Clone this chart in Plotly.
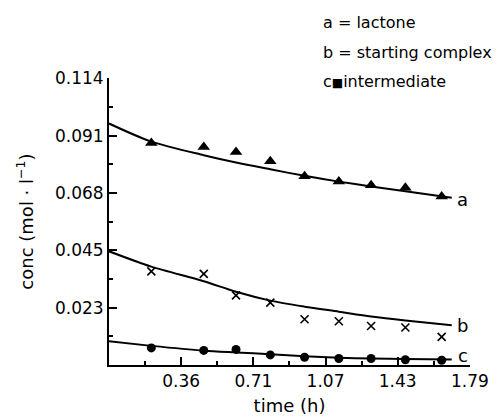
import plotly.graph_objects as go

# measured points
time_pts = [0.21, 0.47, 0.63, 0.80, 0.97, 1.14, 1.30, 1.47, 1.65]
lactone = [0.0883, 0.0867, 0.0847, 0.0810, 0.0750, 0.0730, 0.0715, 0.0705, 0.0670]
starting = [0.0372, 0.0362, 0.0277, 0.0248, 0.0182, 0.0174, 0.0155, 0.0149, 0.0112]
intermediate = [0.0068, 0.0058, 0.0062, 0.0040, 0.0031, 0.0026, 0.0026, 0.0021, 0.0019]

# fitted curves
fit_t = [0, 0.21, 0.47, 0.63, 0.80, 0.97, 1.14, 1.30, 1.47, 1.70]
fit_a = [0.0960, 0.0888, 0.0834, 0.0805, 0.0778, 0.0752, 0.0729, 0.0710, 0.0691, 0.0665]
fit_b = [0.0452, 0.0391, 0.0333, 0.0291, 0.0256, 0.0232, 0.0212, 0.0193, 0.0177, 0.0158]
fit_c = [0.0094, 0.0076, 0.0057, 0.0050, 0.0043, 0.0035, 0.0029, 0.0026, 0.0024, 0.0022]

x_ticks = [0.358, 0.716, 1.074, 1.432, 1.79]
x_labels = ["0.36", "0.71", "1.07", "1.43", "1.79"]
x_minor = [0.179, 0.537, 0.895, 1.253, 1.611]
y_ticks = [0.0228, 0.0456, 0.0684, 0.0912, 0.114]
y_labels = ["0.023", "0.045", "0.068", "0.091", "0.114"]
y_minor = [0.0114, 0.0342, 0.057, 0.0798, 0.1026]

curve_labels = ["a", "b", "c"]
curve_label_y = [0.0658, 0.0156, 0.0037]
legend_lines = ["a = lactone", "b = starting complex",
                "c<span style='font-size:12px'>■</span>intermediate"]

FONT = "DejaVu Sans"
L, R, T, B = 101, 39, 70, 63
W, H = 501, 420
PW, PH = W - L - R, H - T - B

fig = go.Figure()
for fy in (fit_a, fit_b, fit_c):
    fig.add_trace(go.Scatter(x=fit_t, y=fy, mode="lines",
                             line=dict(color="black", width=2, shape="spline", smoothing=0.8),
                             hoverinfo="skip"))
fig.add_trace(go.Scatter(x=time_pts, y=lactone, mode="markers",
                         marker=dict(symbol="triangle-up", size=11, color="black")))
fig.add_trace(go.Scatter(x=time_pts, y=starting, mode="markers",
                         marker=dict(symbol="x-thin", size=8, color="black",
                                     line=dict(color="black", width=1.6))))
fig.add_trace(go.Scatter(x=time_pts, y=intermediate, mode="markers",
                         marker=dict(symbol="circle", size=9, color="black")))

for lab, ly in zip(curve_labels, curve_label_y):
    fig.add_annotation(x=1.755, y=ly, xref="x", yref="y", text=lab, showarrow=False,
                       xanchor="center", yanchor="middle",
                       font=dict(family=FONT, size=18, color="black"))

leg_y = [14, 44, 73]
for txt, py in zip(legend_lines, leg_y):
    fig.add_annotation(x=(313 - L) / PW, y=(H - B - py) / PH, xref="paper", yref="paper",
                       text=txt, showarrow=False, xanchor="left", yanchor="middle",
                       font=dict(family=FONT, size=16, color="black"))

fig.update_layout(
    width=W, height=H, showlegend=False,
    plot_bgcolor="white", paper_bgcolor="white",
    margin=dict(l=L, r=R, t=T, b=B),
    font=dict(family=FONT, size=16, color="black"),
    xaxis=dict(range=[0, 1.7905], showgrid=False, zeroline=False,
               showline=True, linecolor="black", linewidth=2,
               tickmode="array", tickvals=x_ticks, ticktext=x_labels,
               ticks="inside", ticklen=8, tickwidth=1.5, tickcolor="black",
               minor=dict(tickvals=x_minor, ticks="inside", ticklen=4, tickwidth=1.5, tickcolor="black"),
               tickfont=dict(family=FONT, size=17),
               title=dict(text="time (h)", font=dict(family=FONT, size=18), standoff=9)),
    yaxis=dict(range=[0, 0.1141], showgrid=False, zeroline=False,
               showline=True, linecolor="black", linewidth=2,
               tickmode="array", tickvals=y_ticks, ticktext=y_labels,
               ticks="inside", ticklen=8, tickwidth=1.5, tickcolor="black",
               minor=dict(tickvals=y_minor, ticks="inside", ticklen=4, tickwidth=1.5, tickcolor="black"),
               tickfont=dict(family=FONT, size=17),
               title=dict(text="conc (mol · l<sup>−1</sup>)", font=dict(family=FONT, size=18), standoff=17)),
)
fig.write_html("out.html")
